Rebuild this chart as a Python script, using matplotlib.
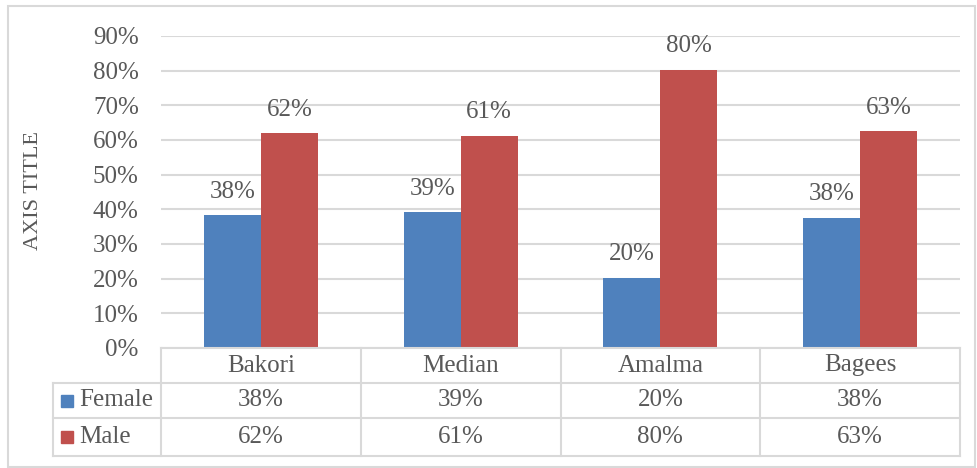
import matplotlib
matplotlib.use("Agg")
import matplotlib.pyplot as plt
from matplotlib.lines import Line2D
from matplotlib.patches import Rectangle
import numpy as np

categories = ["Bakori", "Median", "Amalma", "Bagees"]
series_names = ["Female", "Male"]
female = [0.383, 0.391, 0.202, 0.375]
male = [0.620, 0.612, 0.802, 0.625]
yticks = [0, 0.1, 0.2, 0.3, 0.4, 0.5, 0.6, 0.7, 0.8, 0.9]

colors = ["#4F81BD", "#C0504D"]
text_color = "#595959"
grid_color = "#D9D9D9"
FONT = "Liberation Serif"
FS = 18

def pct(v):
    return f"{int(v * 100 + 0.5)}%"

W, H = 977, 468
fig = plt.figure(figsize=(W / 100, H / 100), dpi=100)
def fx(px): return px / W
def fy(py): return 1 - py / H

x0, x1, ytop, ybot = 161, 960, 36, 348
ax = fig.add_axes([fx(x0), fy(ybot), (x1 - x0) / W, (ybot - ytop) / H])

x = np.arange(len(categories))
bw = 0.285
series = [female, male]
for i, (name, vals) in enumerate(zip(series_names, series)):
    offs = (i - 0.5) * bw
    bars = ax.bar(x + offs, vals, width=bw, color=colors[i], zorder=3)
    for b, v in zip(bars, vals):
        ax.annotate(pct(v), (b.get_x() + b.get_width() / 2, v), xytext=(0, 9),
                    textcoords="offset points", ha="center", va="bottom",
                    fontsize=FS, family=FONT, color=text_color)

ax.set_xlim(-0.5, len(categories) - 0.5)
ax.set_ylim(0, 0.9)
ax.set_yticks(yticks)
ax.set_yticklabels([pct(t) for t in yticks], family=FONT, fontsize=FS, color=text_color)
ax.tick_params(axis="y", length=0, pad=16)
ax.set_xticks([])
for s in ax.spines.values():
    s.set_visible(False)
ax.yaxis.grid(True, color=grid_color, linewidth=1.5, zorder=0)
ax.set_axisbelow(True)

# Axis title
fig.text(fx(33), fy(191), "AXIS TITLE", rotation=90, ha="center", va="center",
         family=FONT, fontsize=16, color=text_color)

# Data table
def line(xs, ys):
    fig.add_artist(Line2D([fx(v) for v in xs], [fy(v) for v in ys],
                          color=grid_color, linewidth=1.5))

col_edges = [x0 + (x1 - x0) * k / len(categories) for k in range(len(categories) + 1)]
rows = [348, 383, 418, 456]
leg_left = 53
line([x0, x1], [rows[0], rows[0]])
for r in rows[1:]:
    line([leg_left, x1], [r, r])
for c in col_edges:
    line([c, c], [rows[0], rows[-1]])
line([leg_left, leg_left], [rows[1], rows[-1]])

for k, cat in enumerate(categories):
    cx = (col_edges[k] + col_edges[k + 1]) / 2
    fig.text(fx(cx), fy((rows[0] + rows[1]) / 2), cat, ha="center", va="center",
             family=FONT, fontsize=FS, color=text_color)
    for j, vals in enumerate(series):
        fig.text(fx(cx), fy((rows[j + 1] + rows[j + 2]) / 2), pct(vals[k]),
                 ha="center", va="center", family=FONT, fontsize=FS, color=text_color)

for j, name in enumerate(series_names):
    cy = (rows[j + 1] + rows[j + 2]) / 2
    fig.add_artist(Rectangle((fx(61), fy(cy + 6)), 12 / W, 12 / H,
                             transform=fig.transFigure, color=colors[j]))
    fig.text(fx(79), fy(cy), name, ha="left", va="center",
             family=FONT, fontsize=FS, color=text_color)

# Outer frame
fig.add_artist(Rectangle((fx(8), fy(467)), (975 - 8) / W, (467 - 6) / H,
                         transform=fig.transFigure, fill=False,
                         edgecolor=grid_color, linewidth=1.5))

fig.savefig("out.png", dpi=100)
